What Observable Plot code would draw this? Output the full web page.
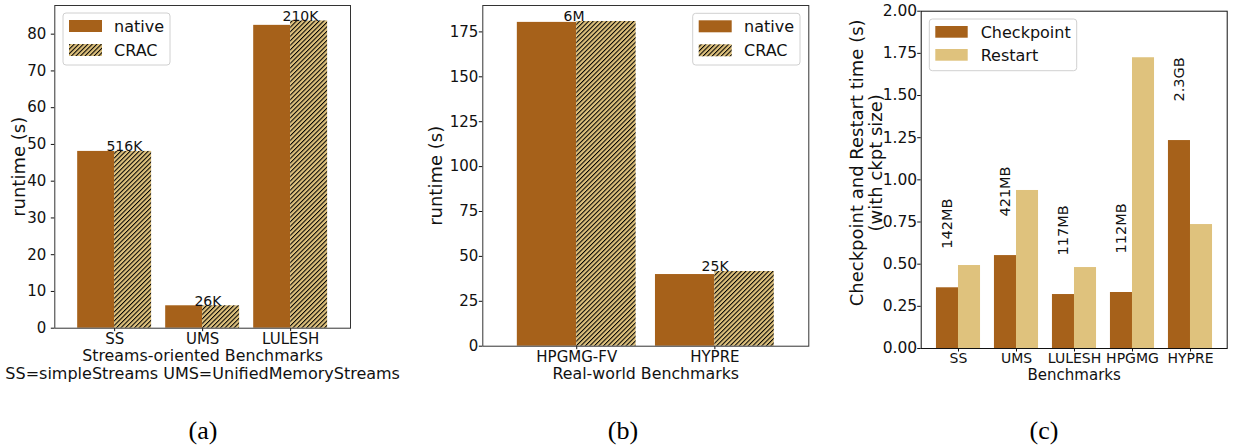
<!DOCTYPE html>
<html><head><meta charset="utf-8">
<script src="https://cdn.jsdelivr.net/npm/d3@7"></script>
<script src="https://cdn.jsdelivr.net/npm/@observablehq/plot@0.6"></script>
<style>
body{margin:0;background:#fff;}
#root{position:relative;width:1233px;height:446px;background:#fff;overflow:hidden;}
.panel{position:absolute;top:0;}
.cap{position:absolute;top:416px;font-family:"Liberation Serif","DejaVu Serif",serif;font-size:26px;line-height:30px;transform:translateX(-50%);color:#000;}
</style></head><body><div id="root"></div>
<script>
// ---- data ----
const streamCats = ["SS", "UMS", "LULESH"];
const streamNative = [48.1, 6.1, 82.4];
const streamCRAC = [48.1, 6.1, 83.6];
const streamLabels = ["516K", "26K", "210K"];
const streamTicks = [0, 10, 20, 30, 40, 50, 60, 70, 80];

const realCats = ["HPGMG-FV", "HYPRE"];
const realNative = [180.3, 39.9];
const realCRAC = [180.8, 41.6];
const realLabels = ["6M", "25K"];
const realTicks = [0, 25, 50, 75, 100, 125, 150, 175];

const ckptCats = ["SS", "UMS", "LULESH", "HPGMG", "HYPRE"];
const ckptTime = [0.36, 0.551, 0.32, 0.332, 1.233];
const restartTime = [0.492, 0.937, 0.48, 1.724, 0.735];
const ckptSizes = ["142MB", "421MB", "117MB", "112MB", "2.3GB"];
const ckptTicks = [0, 0.25, 0.5, 0.75, 1, 1.25, 1.5, 1.75, 2];

const seriesAB = ["native", "CRAC"];
const seriesC = ["Checkpoint", "Restart"];
const captions = ["(a)", "(b)", "(c)"];

const BROWN = "#a6611a", TAN = "#dfc27d";
const FONT = "DejaVu Sans";
const root = document.getElementById("root");

function addHatch(svg, id) {
  const defs = d3.select(svg).insert("defs", ":first-child");
  const p = defs.append("pattern").attr("id", id).attr("patternUnits", "userSpaceOnUse")
    .attr("width", 3.2).attr("height", 3.2).attr("patternTransform", "rotate(45)");
  p.append("rect").attr("width", 3.2).attr("height", 3.2).attr("fill", TAN);
  p.append("line").attr("x1", 0.5).attr("y1", -1).attr("x2", 0.5).attr("y2", 4.2)
    .attr("stroke", "#000").attr("stroke-width", 1.05);
}

function addLegend(svg, box, items, fontSize) {
  const g = d3.select(svg).append("g").attr("text-anchor", "start");
  g.append("rect").attr("x", box.x).attr("y", box.y).attr("width", box.w).attr("height", box.h)
    .attr("rx", 3).attr("fill", "#fff").attr("fill-opacity", 0.85).attr("stroke", "#d0d0d0");
  items.forEach((it, k) => {
    const py = box.y + box.py0 + k * box.step;
    g.append("rect").attr("x", box.x + box.px).attr("y", py).attr("width", box.pw).attr("height", box.ph)
      .attr("fill", it.fill);
    g.append("text").attr("x", box.x + box.tx).attr("y", py + box.ph / 2).attr("dy", "0.36em")
      .attr("text-anchor", "start")
      .attr("font-family", FONT).attr("font-size", fontSize).attr("fill", "#111").text(it.label);
  });
}

function place(svg, left) {
  const d = document.createElement("div");
  d.className = "panel"; d.style.left = left + "px";
  d.appendChild(svg); root.appendChild(d);
}

// ---- panel (a) ----
{
  const bw = 0.42, idx = d3.range(streamCats.length);
  const svg = Plot.plot({
    width: 410, height: 390,
    marginLeft: 54.3, marginRight: 60, marginTop: 5, marginBottom: 62.3,
    style: {fontFamily: FONT, fontSize: "15px", color: "#111", background: "#fff"},
    x: {domain: [-0.68, 2.68], ticks: idx, tickFormat: i => streamCats[i], tickSize: 3.5, tickPadding: 1.2, label: null},
    y: {domain: [0, 87.8], ticks: streamTicks, tickSize: 3.5, tickPadding: 5, label: null},
    marks: [
      Plot.rectY(idx, {x1: i => i - bw, x2: i => i, y: i => streamNative[i], fill: BROWN}),
      Plot.rectY(idx, {x1: i => i, x2: i => i + bw, y: i => streamCRAC[i], fill: "url(#hatchA)"}),
      Plot.text(idx, {x: i => i - 0.093, y: i => streamCRAC[i], text: i => streamLabels[i], textAnchor: "start", lineAnchor: "bottom", fontSize: 14, fill: "#111"}),
      Plot.frame({stroke: "#333"}),
      Plot.text(["runtime (s)"], {text: d => d, frameAnchor: "left", rotate: -90, textAnchor: "middle", lineAnchor: "middle", dx: -35.5, fontSize: 18, fill: "#111"}),
      Plot.text(["Streams-oriented Benchmarks"], {text: d => d, frameAnchor: "bottom", textAnchor: "middle", lineAnchor: "middle", dy: 27.3, fontSize: 15.8, fill: "#111"}),
      Plot.text(["SS=simpleStreams UMS=UnifiedMemoryStreams"], {text: d => d, frameAnchor: "bottom", textAnchor: "middle", lineAnchor: "middle", dy: 45.3, fontSize: 16, fill: "#111"})
    ]
  });
  addHatch(svg, "hatchA");
  addLegend(svg, {x: 63, y: 13, w: 107, h: 52, px: 6, pw: 33, ph: 12, py0: 7, step: 24, tx: 51},
    [{label: seriesAB[0], fill: BROWN}, {label: seriesAB[1], fill: "url(#hatchA)"}], 16);
  place(svg, 0);
}

// ---- panel (b) ----
{
  const bw = 0.43, idx = d3.range(realCats.length);
  const svg = Plot.plot({
    width: 400, height: 390,
    marginLeft: 72.3, marginRight: 1.7, marginTop: 5, marginBottom: 44.3,
    style: {fontFamily: FONT, fontSize: "15px", color: "#111", background: "#fff"},
    x: {domain: [-0.68, 1.68], ticks: idx, tickFormat: i => realCats[i], tickSize: 3.5, tickPadding: 1.5, label: null},
    y: {domain: [0, 189.7], ticks: realTicks, tickSize: 3.5, tickPadding: 1, label: null},
    marks: [
      Plot.rectY(idx, {x1: i => i - bw, x2: i => i, y: i => realNative[i], fill: BROWN}),
      Plot.rectY(idx, {x1: i => i, x2: i => i + bw, y: i => realCRAC[i], fill: "url(#hatchB)"}),
      Plot.text(idx, {x: i => i - 0.096, y: i => realCRAC[i], text: i => realLabels[i], textAnchor: "start", lineAnchor: "bottom", fontSize: 14, fill: "#111"}),
      Plot.frame({stroke: "#333"}),
      Plot.text(["runtime (s)"], {text: d => d, frameAnchor: "left", rotate: -90, textAnchor: "middle", lineAnchor: "middle", dx: -47, fontSize: 18, fill: "#111"}),
      Plot.text(["Real-world Benchmarks"], {text: d => d, frameAnchor: "bottom", textAnchor: "middle", lineAnchor: "middle", dy: 27.6, fontSize: 15.8, fill: "#111"})
    ]
  });
  addHatch(svg, "hatchB");
  addLegend(svg, {x: 282.7, y: 13.3, w: 107.3, h: 51.7, px: 6, pw: 33, ph: 12, py0: 7, step: 24, tx: 51.3},
    [{label: seriesAB[0], fill: BROWN}, {label: seriesAB[1], fill: "url(#hatchB)"}], 16);
  place(svg, 410);
}

// ---- panel (c) ----
{
  const bw = 0.38, idx = d3.range(ckptCats.length);
  const svg = Plot.plot({
    width: 403, height: 390,
    marginLeft: 90.7, marginRight: 6.3, marginTop: 10.7, marginBottom: 42,
    style: {fontFamily: FONT, fontSize: "15.5px", color: "#111", background: "#fff"},
    x: {domain: [-0.643, 4.633], ticks: idx, tickFormat: i => ckptCats[i], tickSize: 3.5, tickPadding: 1.0, label: null},
    y: {domain: [0, 2], ticks: ckptTicks, tickFormat: d3.format(".2f"), tickSize: 3.5, tickPadding: 0.5, label: null},
    marks: [
      Plot.rectY(idx, {x1: i => i - bw, x2: i => i, y: i => ckptTime[i], fill: BROWN}),
      Plot.rectY(idx, {x1: i => i, x2: i => i + bw, y: i => restartTime[i], fill: TAN}),
      Plot.text(idx, {x: i => i - bw / 2, y: i => ckptTime[i], text: i => ckptSizes[i], rotate: -90, textAnchor: "start", lineAnchor: "middle", dy: -39, fontSize: 14.5, fill: "#111"}),
      Plot.frame({stroke: "#111"}),
      Plot.text(["Checkpoint and Restart time (s)\n(with ckpt size)"], {text: d => d, frameAnchor: "left", rotate: -90, textAnchor: "middle", lineAnchor: "middle", lineHeight: 1.06, dx: -55, dy: -17, fontSize: 18, fill: "#111"}),
      Plot.text(["Benchmarks"], {text: d => d, frameAnchor: "bottom", textAnchor: "middle", lineAnchor: "middle", dy: 26.3, fontSize: 15, fill: "#111"})
    ]
  });
  d3.select(svg).selectAll("[aria-label='x-axis'] text, [aria-label='x-axis tick label'] text").attr("font-size", 14);
  addLegend(svg, {x: 99.3, y: 19, w: 147.4, h: 51.7, px: 6, pw: 32.4, ph: 11.7, py0: 7, step: 23, tx: 51.4},
    [{label: seriesC[0], fill: BROWN}, {label: seriesC[1], fill: TAN}], 16);
  place(svg, 830);
}

// ---- captions ----
[203, 623, 1044].forEach((cx, k) => {
  const d = document.createElement("div");
  d.className = "cap"; d.style.left = cx + "px"; d.textContent = captions[k];
  root.appendChild(d);
});
</script></body></html>
